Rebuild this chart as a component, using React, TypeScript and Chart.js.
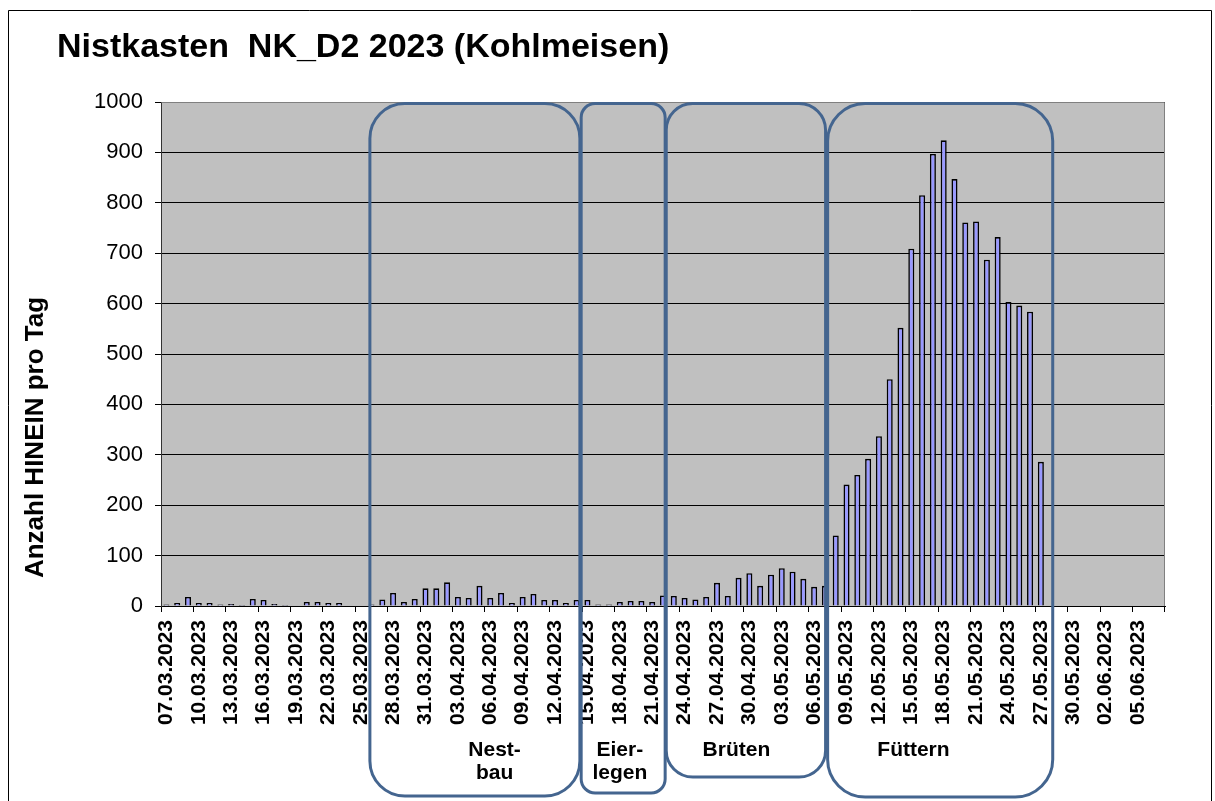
import { useEffect, useRef } from 'react';
import { Chart, registerables } from 'chart.js';

Chart.register(...registerables);

const FONT = '"Liberation Sans", Arial, Helvetica, sans-serif';

const TITLE = 'Nistkasten  NK_D2 2023 (Kohlmeisen)';
const Y_TITLE = 'Anzahl HINEIN pro Tag';

// categories: one per day
const dates = [
  '07.03.2023', '08.03.2023', '09.03.2023', '10.03.2023', '11.03.2023', '12.03.2023', '13.03.2023',
  '14.03.2023', '15.03.2023', '16.03.2023', '17.03.2023', '18.03.2023', '19.03.2023', '20.03.2023',
  '21.03.2023', '22.03.2023', '23.03.2023', '24.03.2023', '25.03.2023', '26.03.2023', '27.03.2023',
  '28.03.2023', '29.03.2023', '30.03.2023', '31.03.2023',
  '01.04.2023', '02.04.2023', '03.04.2023', '04.04.2023', '05.04.2023', '06.04.2023', '07.04.2023',
  '08.04.2023', '09.04.2023', '10.04.2023', '11.04.2023', '12.04.2023', '13.04.2023', '14.04.2023',
  '15.04.2023', '16.04.2023', '17.04.2023', '18.04.2023', '19.04.2023', '20.04.2023', '21.04.2023',
  '22.04.2023', '23.04.2023', '24.04.2023', '25.04.2023', '26.04.2023', '27.04.2023', '28.04.2023',
  '29.04.2023', '30.04.2023',
  '01.05.2023', '02.05.2023', '03.05.2023', '04.05.2023', '05.05.2023', '06.05.2023', '07.05.2023',
  '08.05.2023', '09.05.2023', '10.05.2023', '11.05.2023', '12.05.2023', '13.05.2023', '14.05.2023',
  '15.05.2023', '16.05.2023', '17.05.2023', '18.05.2023', '19.05.2023', '20.05.2023', '21.05.2023',
  '22.05.2023', '23.05.2023', '24.05.2023', '25.05.2023', '26.05.2023', '27.05.2023', '28.05.2023',
  '29.05.2023', '30.05.2023', '31.05.2023',
  '01.06.2023', '02.06.2023', '03.06.2023', '04.06.2023', '05.06.2023', '06.06.2023', '07.06.2023',
];

// Anzahl HINEIN pro Tag
const visitsMarch = [3, 6, 18, 6, 6, 3, 4, 2, 14, 12, 4, 2, 0, 8, 8, 6, 6, 0, 0, 3, 13, 26, 8, 14, 35];
const visitsApril = [35, 47, 18, 16, 40, 16, 26, 6, 18, 24, 12, 12, 6, 12, 12, 3, 3, 8, 10, 10, 8, 21, 20, 16, 13, 18, 46, 20, 56, 65];
const visitsMay = [40, 62, 75, 68, 54, 38, 40, 140, 241, 260, 292, 337, 450, 552, 709, 815, 897, 924, 847, 761, 763, 687, 732, 603, 596, 584, 286, 0, 0, 0, 0];
const visitsJune = [0, 0, 0, 0, 0, 0, 0];
const visitsIn = [...visitsMarch, ...visitsApril, ...visitsMay, ...visitsJune];

const yTickValues = [0, 100, 200, 300, 400, 500, 600, 700, 800, 900, 1000];

// phase annotations (names)
const phaseNames = [['Nest-', 'bau'], ['Eier-', 'legen'], ['Brüten'], ['Füttern']];
// layout of the rounded phase boxes (fractional category positions + bottom pixel)
const PHASE_LAYOUT = [
  { from: 18.85, to: 38.3, label: 30.4, bottom: 796 },
  { from: 38.42, to: 46.2, label: 42.0, bottom: 793 },
  { from: 46.3, to: 61.06, label: 52.8, bottom: 777 },
  { from: 61.25, to: 82.1, label: 69.2, bottom: 797 },
];

function roundRectPath(ctx: CanvasRenderingContext2D, x: number, y: number, w: number, h: number, r: number) {
  ctx.beginPath();
  ctx.moveTo(x + r, y);
  ctx.lineTo(x + w - r, y);
  ctx.arcTo(x + w, y, x + w, y + r, r);
  ctx.lineTo(x + w, y + h - r);
  ctx.arcTo(x + w, y + h, x + w - r, y + h, r);
  ctx.lineTo(x + r, y + h);
  ctx.arcTo(x, y + h, x, y + h - r, r);
  ctx.lineTo(x, y + r);
  ctx.arcTo(x, y, x + r, y, r);
  ctx.closePath();
}

const decorPlugin = {
  id: 'decor',
  beforeDraw(chart: any) {
    const { ctx, chartArea: a, width, height } = chart;
    ctx.save();
    ctx.fillStyle = '#ffffff';
    ctx.fillRect(0, 0, width, height);
    ctx.fillStyle = '#C0C0C0';
    ctx.fillRect(a.left, a.top, a.right - a.left, a.bottom - a.top);
    // outer frame
    ctx.strokeStyle = '#000';
    ctx.lineWidth = 1;
    ctx.beginPath();
    ctx.moveTo(8.5, height);
    ctx.lineTo(8.5, 10.5);
    ctx.lineTo(width - 3.5, 10.5);
    ctx.lineTo(width - 3.5, height);
    ctx.stroke();
    ctx.restore();
  },
  beforeDatasetsDraw(chart: any) {
    const { ctx, chartArea: a } = chart;
    ctx.save();
    ctx.strokeStyle = '#808080';
    ctx.lineWidth = 1;
    ctx.beginPath();
    ctx.moveTo(Math.round(a.left) + 0.5, Math.round(a.top) + 0.5);
    ctx.lineTo(Math.round(a.right) - 0.5, Math.round(a.top) + 0.5);
    ctx.lineTo(Math.round(a.right) - 0.5, Math.round(a.bottom));
    ctx.stroke();
    ctx.restore();
  },
  afterDraw(chart: any) {
    const { ctx, chartArea: a } = chart;
    const xs = chart.scales.x;
    ctx.save();
    // title
    ctx.fillStyle = '#000';
    ctx.font = `bold 34px ${FONT}`;
    ctx.textAlign = 'left';
    ctx.textBaseline = 'alphabetic';
    ctx.fillText(TITLE, 57, 57);

    // y axis title
    ctx.save();
    ctx.translate(36, 437.5);
    ctx.rotate(-Math.PI / 2);
    ctx.font = `bold 26px ${FONT}`;
    ctx.textAlign = 'center';
    ctx.textBaseline = 'middle';
    ctx.fillText(Y_TITLE, 0, 0);
    ctx.restore();

    // phase boxes
    ctx.strokeStyle = '#44658F';
    ctx.lineWidth = 3;
    PHASE_LAYOUT.forEach((p, i) => {
      const x1 = xs.getPixelForValue(p.from);
      const x2 = xs.getPixelForValue(p.to);
      const y1 = a.top + 1.5;
      const y2 = p.bottom;
      const w = x2 - x1;
      const h = y2 - y1;
      const r = Math.min(w, h) * 0.1667;
      roundRectPath(ctx, x1, y1, w, h, r);
      ctx.stroke();
      const lx = xs.getPixelForValue(p.label);
      ctx.font = `bold 21px ${FONT}`;
      ctx.textAlign = 'center';
      ctx.textBaseline = 'middle';
      ctx.fillStyle = '#000';
      phaseNames[i].forEach((line, j) => {
        ctx.fillText(line, lx, 750 + j * 23);
      });
    });
    ctx.restore();
  },
};

export default function App() {
  const canvasRef = useRef<HTMLCanvasElement | null>(null);

  useEffect(() => {
    if (!canvasRef.current) return;
    const chart = new Chart(canvasRef.current, {
      type: 'bar',
      data: {
        labels: dates,
        datasets: [
          {
            label: Y_TITLE,
            data: visitsIn,
            backgroundColor: '#9999FF',
            borderColor: '#000000',
            borderWidth: 1.6,
            categoryPercentage: 1,
            barPercentage: 0.56,
          },
        ],
      },
      options: {
        animation: false,
        responsive: true,
        maintainAspectRatio: false,
        devicePixelRatio: 1,
        layout: { padding: { left: 0, top: 102, right: 50, bottom: 0 } },
        plugins: {
          legend: { display: false },
          tooltip: { enabled: false },
          title: { display: false },
        },
        scales: {
          x: {
            type: 'category',
            offset: true,
            grid: {
              offset: true,
              drawOnChartArea: false,
              drawTicks: true,
              tickLength: 6,
              lineWidth: 1,
              color: (c: any) => (c.index === undefined || c.index % 3 === 0 ? '#000' : 'rgba(0,0,0,0)'),
            },
            border: { display: true, color: '#000', width: 1 },
            ticks: {
              autoSkip: false,
              maxRotation: 90,
              minRotation: 90,
              padding: 8,
              color: '#000',
              font: { family: FONT, size: 21, weight: 'bold' },
              callback: (_v: any, i: number) => (i % 3 === 0 ? dates[i] : ''),
            },
            afterFit: (s: any) => {
              s.height = 195;
            },
          },
          y: {
            min: 0,
            max: 1000,
            afterBuildTicks: (s: any) => {
              s.ticks = yTickValues.map((v) => ({ value: v }));
            },
            ticks: {
              stepSize: 100,
              padding: 12,
              color: '#000',
              font: { family: FONT, size: 22 },
              callback: (v: any) => String(v),
            },
            grid: { color: '#000', lineWidth: 1, tickLength: 6, drawTicks: true },
            border: { display: true, color: '#333', width: 1 },
            afterFit: (s: any) => {
              s.width = 161;
            },
          },
        },
      },
      plugins: [decorPlugin],
    } as any);
    return () => chart.destroy();
  }, []);

  return (
    <div style={{ position: 'absolute', left: 0, top: 0, width: 1215, height: 801 }}>
      <canvas ref={canvasRef} />
    </div>
  );
}
